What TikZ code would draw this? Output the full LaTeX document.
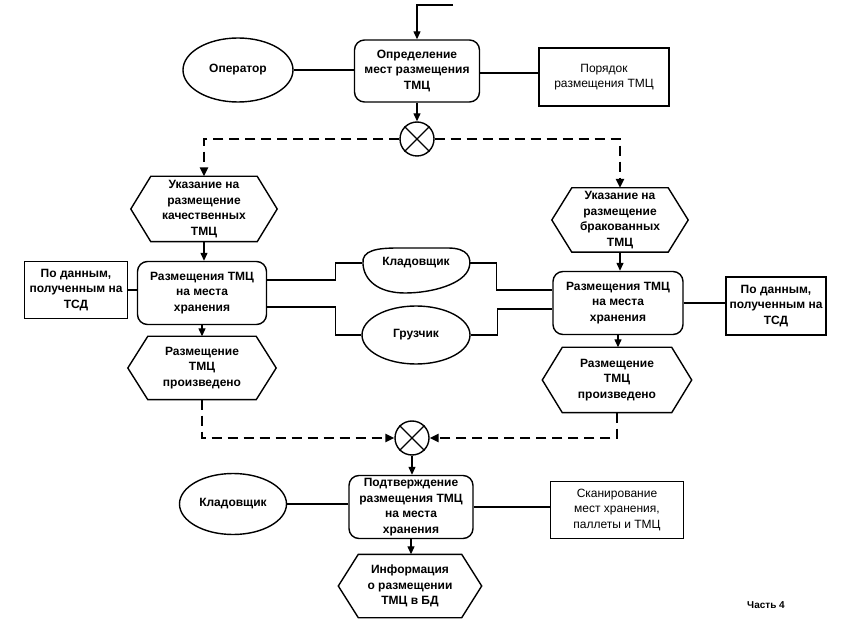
\documentclass[tikz,border=0pt]{standalone}
\usepackage{fontspec}
\setmainfont{Liberation Sans}
\usetikzlibrary{arrows.meta,shapes.geometric}
\newcommand\hexnode[6]{%
  \node[hexin, minimum width=#4, minimum height=#5] (#1) at (#2,#3) {#6};
  \draw[box] ([xshift=-20pt]#1.west) -- (#1.north west) -- (#1.north east) -- ([xshift=20pt]#1.east) -- (#1.south east) -- (#1.south west) -- cycle;}
\begin{document}
\begin{tikzpicture}[x=1pt,y=-1pt,
  every node/.style={font=\fontsize{12}{15.5}\selectfont\bfseries, align=center, inner sep=0pt},
  box/.style={draw, line width=1.4pt},
  rbox/.style={box, rounded corners=10pt},
  hexin/.style={},
  reg/.style={font=\fontsize{12}{15.5}\selectfont},
  ln/.style={line width=1.3pt},
  arr/.style={ln, -{Triangle[length=8pt,width=7pt]}},
  dsh/.style={line width=2.4pt, dash pattern=on 10pt off 6pt},
  darr/.style={dsh, -{Triangle[length=9pt,width=8pt]}},
  xor/.style={circle, draw, line width=1.4pt, minimum size=34pt},
  oval/.style={ellipse, draw, line width=1.4pt},
]
\useasboundingbox[fill=white] (0,0) rectangle (860,620);

% top row
\node[oval, minimum width=110pt, minimum height=64pt] (op) at (238,70) {Оператор};
\node[rbox, minimum width=125pt, minimum height=62pt] (b1) at (417,71) {Определение\\мест размещения\\ТМЦ};
\node[box, reg, minimum width=130pt, minimum height=58pt] (r1) at (604,77) {Порядок\\размещения ТМЦ};
\node[xor] (x1) at (417,139) {};
\draw[ln] (x1.north west) -- (x1.south east) (x1.north east) -- (x1.south west);
\coordinate (in) at (453,5);

% middle
\hexnode{h1}{204}{209}{106pt}{65pt}{Указание на\\размещение\\качественных\\ТМЦ}
\hexnode{h2}{620}{220}{96pt}{64pt}{Указание на\\размещение\\бракованных\\ТМЦ}
\node[rbox, minimum width=129pt, minimum height=63pt] (b2) at (202,293) {Размещения ТМЦ\\на места\\хранения};
\node[box, minimum width=103pt, minimum height=57pt] (r2) at (76,290) {По данным,\\полученным на\\ТСД};
\node[rbox, minimum width=130pt, minimum height=63pt] (b3) at (618,303) {Размещения ТМЦ\\на места\\хранения};
\node[box, minimum width=100pt, minimum height=58pt] (r3) at (776,306) {По данным,\\полученным на\\ТСД};
\node[ellipse, minimum width=107pt, minimum height=44pt] (e1) at (416,263) {Кладовщик};
\draw[line width=1.4pt] (363,264) .. controls (361,250) and (378,248) .. (398,248) -- (448,248) .. controls (468,248) and (472,258) .. (469,268) .. controls (464,284) and (432,293) .. (405,293) .. controls (378,293) and (364,280) .. (363,264);
\node[oval, minimum width=108pt, minimum height=58pt] (e2) at (416,335) {Грузчик};
\hexnode{h3}{202}{368}{108pt}{63pt}{Размещение\\ТМЦ\\произведено}
\hexnode{h4}{617}{380}{109pt}{65pt}{Размещение\\ТМЦ\\произведено}
\node[xor] (x2) at (412,438) {};
\draw[ln] (x2.north west) -- (x2.south east) (x2.north east) -- (x2.south west);

% bottom
\node[oval, minimum width=107pt, minimum height=61pt] (e3) at (233,504) {Кладовщик};
\node[rbox, minimum width=124pt, minimum height=63pt] (b4) at (411,507) {Подтверждение\\размещения ТМЦ\\на места\\хранения};
\node[box, reg, minimum width=133pt, minimum height=57pt] (r4) at (617,510) {Сканирование\\мест хранения,\\паллеты и ТМЦ};
\hexnode{h5}{410}{586}{103pt}{63pt}{Информация\\о размещении\\ТМЦ в БД}
\node[font=\fontsize{10}{12}\selectfont\bfseries] (part) at (766,605) {Часть 4};

% connectors
\draw[arr] (in) -| (b1.north);
\draw[ln] (op.east) -- (op.east -| b1.west);
\draw[ln] ([yshift=-2pt]b1.east) -- ([yshift=-2pt]b1.east -| r1.west);
\draw[arr] (b1.south) -- (x1.north);
\draw[darr] (x1.west) -| (h1.north);
\draw[darr] (x1.east) -| (h2.north);
\draw[arr] (h1.south) -- (h1.south |- b2.north);
\draw[arr] (h2.south) -- (h2.south |- b3.north);
\draw[ln] (r2.east) -- (r2.east -| b2.west);
\draw[ln] (b3.east) -- (b3.east -| r3.west);
\draw[ln] ([yshift=13pt]b2.east) -- ++(68,0) |- (e1.west);
\draw[ln] ([yshift=-14pt]b2.east) -- ++(68,0) |- (e2.west);
\draw[ln] (e1.east) -- ++(27,0) |- ([yshift=13pt]b3.west);
\draw[ln] (e2.east) -- ++(27,0) |- ([yshift=-6pt]b3.west);
\draw[arr] (b2.south) -- (h3.north);
\draw[arr] (b3.south) -- (b3.south |- h4.north);
\draw[darr] (h3.south) |- (x2.west);
\draw[darr] (h4.south) |- (x2.east);
\draw[arr] (x2.south) -- (x2.south |- b4.north);
\draw[ln] (e3.east) -- (e3.east -| b4.west);
\draw[ln] (b4.east) -- (b4.east -| r4.west);
\draw[arr] (b4.south) -- (b4.south |- h5.north);
\end{tikzpicture}
\end{document}
